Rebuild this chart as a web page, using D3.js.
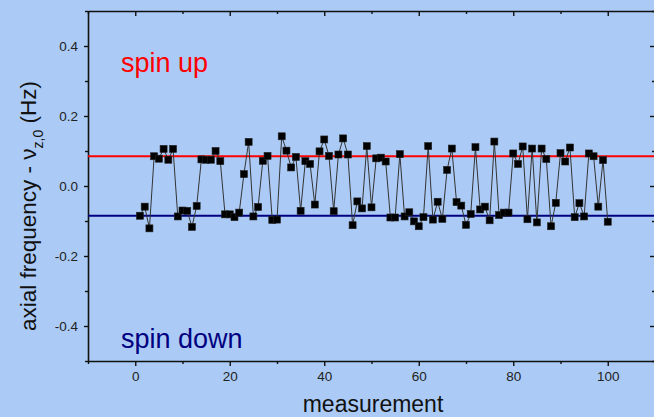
<!DOCTYPE html>
<html>
<head>
<meta charset="utf-8">
<script src="https://cdn.jsdelivr.net/npm/d3@7"></script>
<style>
  html, body { margin: 0; padding: 0; background: #abcbf6; }
  svg { display: block; font-family: "Liberation Sans", Arial, sans-serif; }
</style>
</head>
<body>
<svg id="chart" width="654" height="417"></svg>
<script>
// Measurement index and measured axial frequency shift (Hz)
const measurement = d3.range(1, 101);
const axialFreq = [
  -0.085, -0.059, -0.121, 0.085, 0.078, 0.106, 0.075, 0.106, -0.087, -0.070,
  -0.071, -0.117, -0.057, 0.076, 0.075, 0.075, 0.100, 0.071, -0.081, -0.081,
  -0.089, -0.076, 0.034, 0.126, -0.087, -0.060, 0.072, 0.086, -0.097, -0.096,
  0.142, 0.101, 0.053, 0.083, -0.071, 0.071, 0.063, -0.053, 0.099, 0.133,
  0.086, -0.072, 0.090, 0.136, 0.090, -0.112, -0.044, -0.064, 0.114, -0.061,
  0.079, 0.081, 0.070, -0.090, -0.090, 0.091, -0.087, -0.075, -0.101, -0.115,
  -0.089, 0.114, -0.096, -0.045, -0.094, 0.046, 0.107, -0.046, -0.056, -0.111,
  -0.080, 0.111, -0.067, -0.059, -0.098, 0.127, -0.083, -0.076, -0.076, 0.093,
  0.063, 0.113, -0.095, 0.107, -0.104, 0.107, 0.077, -0.115, -0.048, 0.094,
  0.070, 0.110, -0.089, -0.049, -0.087, 0.093, 0.085, -0.059, 0.074, -0.102
];
// Reference levels for the two spin states
const spinLevels = [
  { name: "spin up", value: 0.085, color: "#ff0000" },
  { name: "spin down", value: -0.085, color: "#000080" }
];
const xMajorTicks = [0, 20, 40, 60, 80, 100];
const xMinorTicks = [-10, 10, 30, 50, 70, 90, 110];
const yMajorTicks = [-0.4, -0.2, 0.0, 0.2, 0.4];
const yMinorTicks = [-0.5, -0.3, -0.1, 0.1, 0.3, 0.5];

const svg = d3.select("#chart");
const plotLeft = 88, plotRight = 655, plotTop = 11, plotBottom = 361;

const x = d3.scaleLinear().domain([-10, 110]).range([plotLeft, plotRight]);
const y = d3.scaleLinear().domain([-0.5, 0.5]).range([plotBottom, plotTop]);

const axisColor = "#111";
const labelColor = "#222";

function styleAxis(g) {
  g.selectAll("path.domain").attr("stroke", axisColor).attr("stroke-width", 1.6);
  g.selectAll(".tick line").attr("stroke", axisColor).attr("stroke-width", 1.4);
  g.selectAll(".tick text").attr("fill", labelColor)
    .style("font-size", "13.5px").style("font-family", "'Liberation Sans', Arial, sans-serif");
}

// Bottom axis: labelled majors + minors
svg.append("g").attr("transform", `translate(0,${plotBottom})`)
  .call(d3.axisBottom(x).tickValues(xMinorTicks).tickSize(3).tickFormat(""))
  .call(g => g.select(".domain").remove()).call(styleAxis);
svg.append("g").attr("transform", `translate(0,${plotBottom})`)
  .call(d3.axisBottom(x).tickValues(xMajorTicks).tickSize(5).tickPadding(5).tickSizeOuter(0).tickFormat(d3.format("d")))
  .call(styleAxis);

// Top axis: inward ticks, no labels
svg.append("g").attr("transform", `translate(0,${plotTop})`)
  .call(d3.axisTop(x).tickValues(xMinorTicks).tickSize(-3).tickFormat(""))
  .call(g => g.select(".domain").remove()).call(styleAxis);
svg.append("g").attr("transform", `translate(0,${plotTop})`)
  .call(d3.axisTop(x).tickValues(xMajorTicks).tickSize(-5).tickSizeOuter(0).tickFormat(""))
  .call(styleAxis);

// Left axis
svg.append("g").attr("transform", `translate(${plotLeft},0)`)
  .call(d3.axisLeft(y).tickValues(yMinorTicks).tickSize(3).tickFormat(""))
  .call(g => g.select(".domain").remove()).call(styleAxis);
svg.append("g").attr("transform", `translate(${plotLeft},0)`)
  .call(d3.axisLeft(y).tickValues(yMajorTicks).tickSize(4).tickPadding(6).tickSizeOuter(0)
    .tickFormat(d => d.toFixed(1)))
  .call(styleAxis);

// Right axis: inward ticks
svg.append("g").attr("transform", `translate(${plotRight},0)`)
  .call(d3.axisRight(y).tickValues(yMinorTicks).tickSize(-3).tickFormat(""))
  .call(g => g.select(".domain").remove()).call(styleAxis);
svg.append("g").attr("transform", `translate(${plotRight},0)`)
  .call(d3.axisRight(y).tickValues(yMajorTicks).tickSize(-5).tickSizeOuter(0).tickFormat(""))
  .call(styleAxis);

// Spin level lines
svg.append("g").selectAll("line").data(spinLevels).join("line")
  .attr("x1", plotLeft).attr("x2", plotRight)
  .attr("y1", d => y(d.value)).attr("y2", d => y(d.value))
  .attr("stroke", d => d.color).attr("stroke-width", 2);

// Measurement trace
const points = measurement.map((m, i) => [m, axialFreq[i]]);
svg.append("path").datum(points)
  .attr("fill", "none").attr("stroke", "#333").attr("stroke-width", 1)
  .attr("d", d3.line().x(d => x(d[0])).y(d => y(d[1])));

const ms = 7;
svg.append("g").selectAll("rect").data(points).join("rect")
  .attr("x", d => x(d[0]) - ms / 2).attr("y", d => y(d[1]) - ms / 2)
  .attr("width", ms).attr("height", ms)
  .attr("fill", "#000").attr("stroke", "#222").attr("stroke-width", 0.6);

// State annotations
svg.append("text").attr("x", 121).attr("y", 72)
  .attr("fill", "#ff0000").style("font-size", "27px").text("spin up");
svg.append("text").attr("x", 121).attr("y", 348)
  .attr("fill", "#000080").style("font-size", "27px").text("spin down");

// Axis titles
svg.append("text").attr("x", 373).attr("y", 412)
  .attr("text-anchor", "middle").attr("fill", "#111")
  .style("font-size", "23px").text("measurement");

const yTitle = svg.append("text")
  .attr("transform", "translate(36,206) rotate(-90)")
  .attr("text-anchor", "middle").attr("fill", "#111")
  .style("font-size", "22.5px");
yTitle.append("tspan").text("axial frequency - \u03BD");
yTitle.append("tspan").attr("dy", 7).style("font-size", "14px").text("z,0");
yTitle.append("tspan").attr("dy", -7).text(" (Hz)");
</script>
</body>
</html>
